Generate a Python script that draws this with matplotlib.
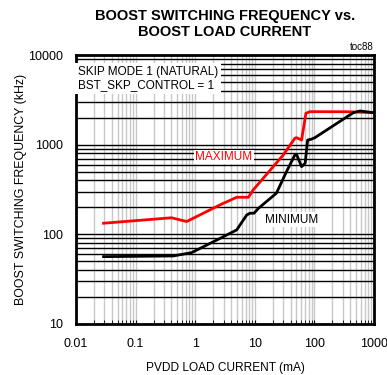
import matplotlib
matplotlib.use("Agg")
import matplotlib.pyplot as plt
from matplotlib.ticker import LogLocator, NullFormatter, FixedLocator, FixedFormatter

plt.rcParams['font.family'] = ['Liberation Sans', 'DejaVu Sans']

# maximum switching frequency curve (mA, kHz)
max_i = [0.029, 0.40, 0.72, 2.6, 4.97, 7.8, 9.4, 30, 47, 50, 61, 72, 84, 350, 973]
max_f = [133, 153, 139, 213, 259, 259, 313, 767, 1178, 1197, 1127, 2238, 2333, 2330, 2275]

# minimum switching frequency curve (mA, kHz)
min_i = [0.029, 0.43, 0.87, 2.6, 4.97, 7.3, 8.3, 9.7, 11.5, 23, 34, 47, 50, 61, 70, 77, 88, 102, 450, 582, 973]
min_f = [56.4, 57.4, 62.5, 90, 112, 164, 172, 172, 195, 287, 500, 767, 781, 569, 621, 1127, 1148, 1197, 2275, 2377, 2275]

x_ticks = [0.01, 0.1, 1, 10, 100, 1000]
x_labels = ["0.01", "0.1", "1", "10", "100", "1000"]
y_ticks = [10, 100, 1000, 10000]
y_labels = ["10", "100", "1000", "10000"]

fig = plt.figure(figsize=(3.87, 3.75), dpi=100)
ax = fig.add_axes([76 / 387, 1 - 324 / 375, 298 / 387, 269 / 375])

ax.set_xscale("log")
ax.set_yscale("log")
ax.set_xlim(0.01, 1000)
ax.set_ylim(10, 10000)

ax.xaxis.set_major_locator(FixedLocator(x_ticks))
ax.xaxis.set_major_formatter(FixedFormatter(x_labels))
ax.yaxis.set_major_locator(FixedLocator(y_ticks))
ax.yaxis.set_major_formatter(FixedFormatter(y_labels))
ax.xaxis.set_minor_locator(LogLocator(base=10, subs=range(2, 10)))
ax.yaxis.set_minor_locator(LogLocator(base=10, subs=range(2, 10)))
ax.xaxis.set_minor_formatter(NullFormatter())
ax.yaxis.set_minor_formatter(NullFormatter())

ax.grid(True, axis="x", which="both", color="#c8c8c8", lw=1)
ax.grid(True, axis="y", which="both", color="black", lw=1)
ax.set_axisbelow(True)
ax.tick_params(which="both", direction="in", length=3, labelsize=9)
ax.tick_params(axis="x", pad=10)
ax.tick_params(axis="y", pad=9)

for s in ax.spines.values():
    s.set_linewidth(2)

ax.plot(max_i, max_f, color="#ff0000", lw=2)
ax.plot(min_i, min_f, color="black", lw=2)

box = dict(facecolor="white", edgecolor="none", pad=1)
ax.text(0.0108, 7600, "SKIP MODE 1 (NATURAL)\nBST_SKP_CONTROL = 1", fontsize=8.5,
        va="top", ha="left", linespacing=1.2, bbox=dict(facecolor="white", edgecolor="none", pad=2))
ax.text(3.04, 730, "MAXIMUM", color="#ff0000", fontsize=8.5, ha="center", va="center", bbox=box)
ax.text(42, 145, "MINIMUM", color="black", fontsize=8.5, ha="center", va="center", bbox=box)

ax.set_xlabel("PVDD LOAD CURRENT (mA)", fontsize=8.6, labelpad=9)
ax.set_ylabel("BOOST SWITCHING FREQUENCY (kHz)", fontsize=8.9, labelpad=1)

fig.text(225 / 387, 1 - 24 / 375, "BOOST SWITCHING FREQUENCY vs.\nBOOST LOAD CURRENT",
         ha="center", va="center", fontsize=10.5, fontweight="bold", linespacing=1.15)
fig.text(374 / 387, 1 - 52 / 375, "toc88", ha="right", va="bottom", fontsize=7)

fig.savefig("out.png", dpi=100)
